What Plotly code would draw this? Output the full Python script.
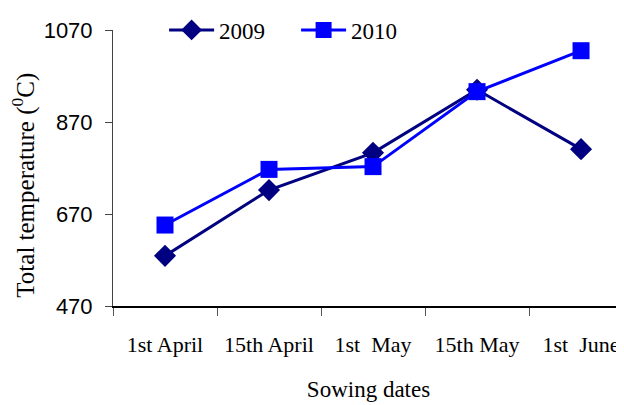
import plotly.graph_objects as go

categories = ["1st April", "15th April", "1st  May", "15th May", "1st  June"]
y2009 = [579, 722, 803, 940, 811]
y2010 = [646, 767, 773, 936, 1025]
ytick_vals = [470, 670, 870, 1070]

fig = go.Figure()
fig.add_trace(go.Scatter(
    x=categories, y=y2009, name="2009", mode="lines+markers",
    line=dict(color="#000080", width=3),
    marker=dict(symbol="diamond", size=17, color="#000080"),
    cliponaxis=False,
))
fig.add_trace(go.Scatter(
    x=categories, y=y2010, name="2010", mode="lines+markers",
    line=dict(color="#0000FF", width=3),
    marker=dict(symbol="square", size=17, color="#0000FF"),
    cliponaxis=False,
))

# page body has an 8px margin, so the figure is drawn 8px right/down
fig.update_layout(
    width=616, height=397,
    margin=dict(l=105, r=0, t=22, b=99, autoexpand=False),
    plot_bgcolor="white", paper_bgcolor="white",
    showlegend=True,
    legend=dict(orientation="h", x=0.1, y=1.0, xanchor="left", yanchor="middle",
                itemwidth=45, entrywidth=72, entrywidthmode="pixels",
                font=dict(family="Liberation Serif", size=23, color="black"),
                bgcolor="rgba(0,0,0,0)"),
    xaxis=dict(
        type="category", range=[-0.5, 4.413], tickson="boundaries",
        showline=True, linecolor="black", linewidth=1.5,
        ticks="outside", ticklen=8, tickcolor="#555",
        ticklabelstandoff=18,
        showgrid=False, zeroline=False,
        tickfont=dict(family="Liberation Serif", size=22, color="black"),
        title=dict(text="Sowing dates", standoff=25,
                   font=dict(family="Liberation Serif", size=23, color="black")),
    ),
    yaxis=dict(
        range=[470, 1070], tickvals=ytick_vals,
        showline=True, linecolor="#444", linewidth=1,
        ticks="outside", ticklen=7, tickcolor="#444",
        ticklabelstandoff=8,
        showgrid=False, zeroline=False,
        tickfont=dict(family="Liberation Sans", size=22, color="black"),
    ),
    annotations=[dict(
        text="Total temperature (<sup>0</sup>C)", textangle=-90,
        xref="paper", yref="paper", x=-0.175, y=0.438,
        xanchor="center", yanchor="middle", showarrow=False,
        font=dict(family="Liberation Serif", size=25, color="black"),
    )],
)

fig.write_html("out.html")
